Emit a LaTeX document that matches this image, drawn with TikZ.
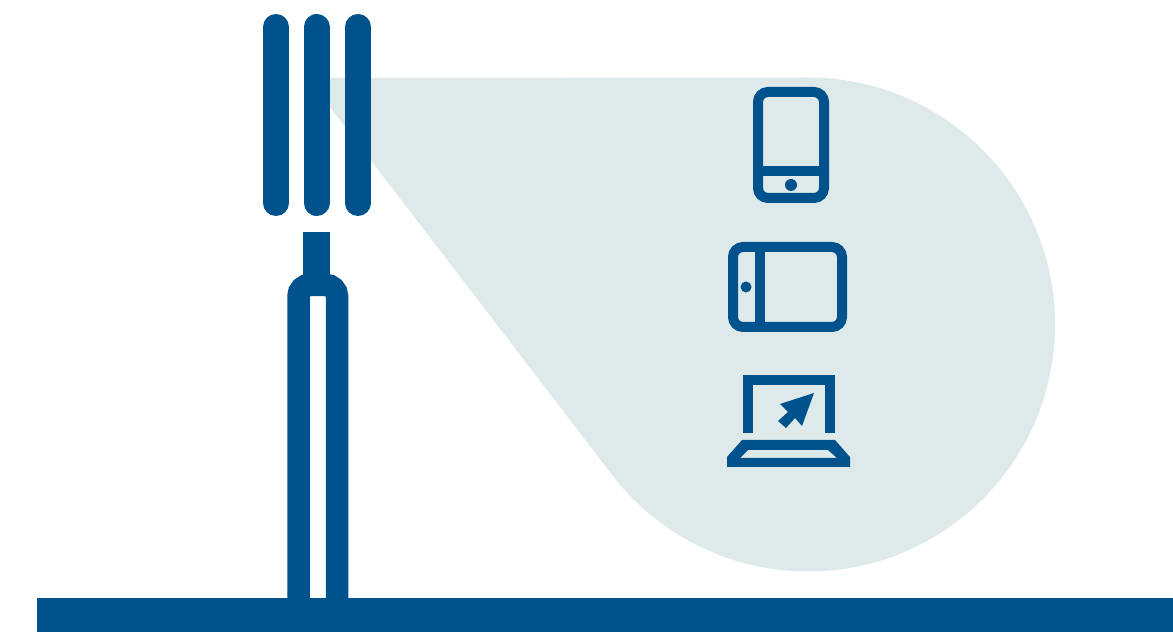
\documentclass[tikz,border=0pt]{standalone}
\usepackage{xcolor}
\usepackage{tikz}
\definecolor{mastblue}{HTML}{00528C}
\definecolor{cellpale}{HTML}{DEEAEA}
\tikzset{
  mastbar/.style={line width=0.52cm, draw=mastblue, line cap=round},
  maststem/.style={line width=0.54cm, draw=mastblue, line cap=butt},
  mastleg/.style={line width=0.45cm, draw=mastblue, line cap=butt, rounded corners=0.225cm},
  groundfill/.style={fill=mastblue},
  cellfill/.style={fill=cellpale},
  iconline/.style={line width=0.2cm, draw=mastblue, line cap=butt, line join=miter},
  iconround/.style={iconline, rounded corners=0.2cm},
  iconfill/.style={fill=mastblue},
}
\begin{document}
\begin{tikzpicture}
\useasboundingbox (0.000,0.000) rectangle (23.460,12.640);
\fill[white] (0.000,0.000) rectangle (23.460,12.640);
\fill[cellfill] (6.600,11.080) -- (16.160,11.090) arc (90:-142.2:4.940) -- (6.600,10.500) -- cycle;
\draw[mastbar] (5.520,12.100) -- (5.520,8.580);
\draw[mastbar] (6.330,12.100) -- (6.330,8.580);
\draw[mastbar] (7.160,12.100) -- (7.160,8.580);
\draw[maststem] (6.330,8.000) -- (6.330,6.900);
\draw[mastleg] (5.970,0.680) -- (5.970,6.940) -- (6.740,6.940) -- (6.740,0.680);
\fill[groundfill] (0.740,0.000) rectangle (23.460,0.680);
% phone
\draw[iconround] (15.160,8.680) rectangle (16.480,10.800);
\draw[iconline] (15.160,9.210) -- (16.480,9.210);
\fill[iconfill] (15.820,8.940) circle (0.120);
% tablet
\draw[iconround] (14.660,6.100) rectangle (16.840,7.700);
\draw[iconline] (15.190,6.100) -- (15.190,7.700);
\fill[iconfill] (14.920,6.900) circle (0.110);
% laptop
\draw[iconline] (14.960,3.980) -- (14.960,5.040) -- (16.600,5.040) -- (16.600,3.980);
\fill[iconfill, even odd rule] (14.840,3.840) -- (16.700,3.840) -- (17.000,3.500) -- (17.000,3.300) -- (14.540,3.300) -- (14.540,3.500) -- cycle
  (14.960,3.640) -- (16.560,3.640) -- (16.740,3.480) -- (14.800,3.480) -- cycle;
\fill[iconfill] (16.280,4.780) -- (15.600,4.560) -- (15.760,4.400) -- (15.560,4.220) -- (15.720,4.080) -- (15.900,4.280) -- (16.040,4.120) -- cycle;
\end{tikzpicture}
\end{document}
